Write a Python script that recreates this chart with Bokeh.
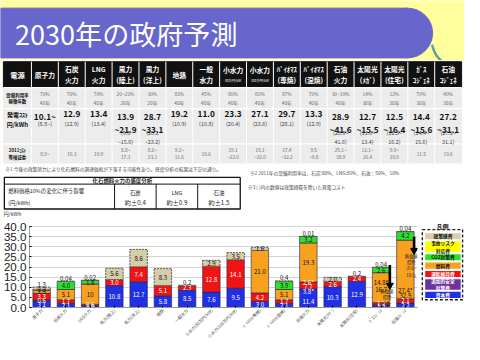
import math
import numpy as np
from bokeh.plotting import figure
from bokeh.layouts import column, row
from bokeh.models import Range1d, FactorRange, SingleIntervalTicker, NumeralTickFormatter, ColumnDataSource
from bokeh.transform import dodge
from bokeh.core.properties import value
from bokeh.embed import file_html
from bokeh.resources import INLINE

# ---------------- data ----------------
title = "2030年の政府予測"
cats = ["原子力", "石炭火力", "LNG火力", "風力(陸上)", "風力(洋上)", "地熱", "一般水力",
        "小水力(80万円/kW)", "小水力(100万円/kW)", "ﾊﾞｲｵﾏｽ(専焼)", "ﾊﾞｲｵﾏｽ(混焼)", "石油火力",
        "太陽光(ﾒｶﾞ)", "太陽光(住宅)", "ｶﾞｽｺｼﾞｪﾈ", "石油ｺｼﾞｪﾈ"]

head_main = ["原子力", "石炭\n火力", "LNG\n火力", "風力\n(陸上)", "風力\n(洋上)", "地熱", "一般\n水力",
             "小水力", "小水力", "ﾊﾞｲｵﾏｽ\n(専焼)", "ﾊﾞｲｵﾏｽ\n(混焼)", "石油\n火力", "太陽光\n(ﾒｶﾞ)",
             "太陽光\n(住宅)", "ｶﾞｽ\nｺｼﾞｪﾈ", "石油\nｺｼﾞｪﾈ"]
head_sub = ["", "", "", "", "", "", "", "80万円/kW", "100万円/kW", "", "", "", "", "", "", ""]
row_labels = ["設備利用率\n稼働年数", "発電ｺｽﾄ\n円/kWh", "2011ｺｽﾄ\n等検証委"]
util = ["70%\n40年", "70%\n40年", "70%\n40年", "20~23%\n20年", "30%\n20年", "83%\n40年", "45%\n40年",
        "60%\n40年", "60%\n40年", "87%\n40年", "70%\n40年", "30~10%\n40年", "14%\n30年", "12%\n30年",
        "70%\n30年", "40%\n30年"]
cost_main = ["10.1~", "12.9", "13.4", "13.9\n~21.9", "28.7\n~33.1", "19.2", "11.0", "23.3", "27.1",
             "29.7", "13.3", "28.9\n~41.6", "12.7\n~15.5", "12.5\n~16.4", "14.4\n~15.6", "27.2\n~31.1"]
cost_sub = ["(8.8~)", "(12.9)", "(13.4)", "(9.8\n~15.6)", "(20.2\n~23.2)", "(10.9)", "(10.8)", "(20.4)",
            "(23.6)", "(28.1)", "(12.9)", "(28.9~\n41.6)", "(11.0~\n13.4)", "(12.3~\n16.2)",
            "(14.4~\n15.6)", "(27.1~\n31.1)"]
cost2011 = ["8.9~", "10.3", "10.9", "8.8~\n17.3", "8.6~\n23.1", "9.2~\n11.6", "10.6", "19.1\n~22.0",
            "19.1\n~22.0", "17.4\n~32.2", "9.5\n~9.8", "25.1~\n38.9", "12.1~\n26.4", "9.9~\n20.0",
            "11.5", "19.6"]
note1 = "※1 今後の政策努力により化石燃料の調達価格が下落する可能性あり。感度分析の結果は下記の通り。"
note2 = "※2 2011年の設備利用率は、石炭:80%、LNG:80%、石油：50%、10%"
note3 = "※3 ( )内の数値は政策経費を除いた発電コスト"
sens_title = "化石燃料火力の感度分析"
sens_label = "燃料価格10%の変化に伴う影響\n(円/kWh)"
sens_fuel = ["石炭", "LNG", "石油"]
sens_val = ["約±0.4", "約±0.9", "約±1.5"]
y_unit = "円/kWh"

# stacked series (円/kWh)
capital  = [3.1, 2.1, 1.0, 10.8, 12.7, 5.8, 8.5, 7.6, 9.5, 3.0, 2.1, 9.2, 10.3, 12.9, 1.2, 2.2]
safety   = [0.6, 0, 0, 0, 0, 0, 0, 0, 0, 0, 0, 0, 0, 0, 0, 0]
om       = [3.3, 1.7, 0.6, 3.0, 7.4, 5.1, 2.3, 12.8, 14.1, 4.2, 1.7, 3.4, 2.6, 2.4, 1.2, 2.1]
fuel     = [1.5, 5.1, 10.0, 0, 0, 0, 0, 0, 0, 21.0, 5.1, 19.3, 0, 0, 14.8, 29.0]
co2      = [0, 4.0, 1.8, 0, 0, 0, 0, 0, 0, 0, 3.9, 3.2, 0, 0, 2.6, 4.2]
accident = [0.3, 0, 0, 0, 0, 0, 0, 0, 0, 0, 0, 0, 0, 0, 0, 0]
policy   = [1.3, 0.04, 0.02, 5.6, 8.6, 8.3, 0.2, 2.9, 3.5, 1.6, 0.4, 0.01, 2.0, 0.2, 0.04, 0.04]

capital_lbl  = ["3.1", "2.1", "1.0", "10.8", "12.7", "5.8", "8.5", "7.6", "9.5", "3.0", "2.1", "", "10.3", "12.9", "1.2", "2.2"]
safety_lbl   = ["0.6"] + [""] * 15
om_lbl       = ["3.3", "1.7", "0.6", "3.0", "7.4", "5.1", "2.3", "12.8", "14.1", "4.2", "1.7", "", "2.6", "2.4", "1.2", "2.1"]
fuel_lbl     = ["1.5", "5.1", "10", "", "", "", "", "", "", "21.0", "5.1", "19.3", "", "", "", ""]
co2_lbl      = ["", "4.0", "1.8", "", "", "", "", "", "", "", "3.9", "3.2", "", "", "2.6", "4.2"]
accident_lbl = ["0.3"] + [""] * 15
policy_lbl   = ["1.3", "0.04", "0.02", "5.6", "8.6", "8.3", "0.2", "2.9", "3.5", "1.6", "0.4", "0.01", "2.0", "0.2", "0.04", "0.04"]

# extra value notes inside bars
note_cat = ["石油火力", "石油火力", "石油火力", "石油火力", "ｶﾞｽｺｼﾞｪﾈ", "ｶﾞｽｺｼﾞｪﾈ", "石油ｺｼﾞｪﾈ", "石油ｺｼﾞｪﾈ"]
note_y   = [3.2, 8.0, 10.6, 12.3, 12.4, 8.8, 8.6, 5.9]
note_txt = ["11.4", "3.8*", "7.7", "2.6*", "14.8*", "16.7", "27.4*", "32.9"]
note_dark = [False, False, False, False, True, True, True, True]

arrow_cat = ["ｶﾞｽｺｼﾞｪﾈ", "石油ｺｼﾞｪﾈ"]
arrow_from = [21.0, 35.0]
arrow_to = [11.0, 28.2]
arrow_txt = ["熱価値\n控除\n(5.9~\n6.5)", "熱価値\n控除\n(9.0~\n10.5)"]

legend_names = ["政策経費", "事故リスク\n対応費", "CO2対策費", "燃料費", "運転維持費", "追加的安全\n対策費", "資本費"]

# ---------------- style ----------------
FONT = "Noto Sans CJK JP"
NUMF = "Liberation Sans"
BG_YEL = "#FFFF9E"
PURPLE_B = "#6666CC"
TEAL = "#5A9E98"
C_BLUE, C_PURP, C_RED, C_ORG = "#2030E6", "#7030A0", "#F01414", "#F7A11F"
C_GRN, C_YEL, C_TAN = "#2EE02E", "#FFFF00", "#D6CCA8"

W, H = 464, 344
SX, SY = W / 480, H / 360
def fs(n):
    return f"{n * SX:.2f}px"

SPLIT = 229
HA = round(SPLIT * SY)
HB = H - HA
WB = round(432 * SX)
WC = W - WB

def bare(p):
    p.xaxis.visible = False
    p.yaxis.visible = False
    p.grid.visible = False
    p.outline_line_color = None

# ================= top figure (title + table) =================
pA = figure(width=W, height=HA, x_range=Range1d(0, 480), y_range=Range1d(SPLIT, 0),
            output_backend="svg", toolbar_location=None, min_border=0)
bare(pA)
pA.background_fill_color = BG_YEL
pA.border_fill_color = BG_YEL

t = np.linspace(0.2, 0.9, 30)
pA.line(478 - 32 * np.cos(t), 40 + 32 * np.sin(t), line_color=TEAL, line_width=2.5)
pA.quad(left=0, right=480, top=63, bottom=SPLIT, color="white")
pA.quad(left=0, right=421, top=8, bottom=60, color=PURPLE_B)
pA.ellipse(x=421, y=34, width=52, height=52, color=PURPLE_B)
pA.segment(x0=0, y0=62.5, x1=423, y1=62.5, line_color="white", line_width=1.5)
pA.text(x=[15], y=[35], text=[title], text_font=value(FONT), text_font_size=fs(28),
        text_color="white", text_baseline="middle")

# table geometry
T_L, T_R, C0 = 3, 477, 32
CW = (T_R - C0) / len(cats)
R = [64, 91, 113, 150, 170]
centers = [C0 + CW * (i + 0.5) for i in range(len(cats))]
pA.quad(left=T_L, right=T_R, top=R[0], bottom=R[1], color="#111111")
pA.quad(left=T_L, right=T_R, top=R[1], bottom=R[4], color="#ECECEC")
edges = [C0 + CW * i for i in range(len(cats))]
pA.segment(x0=edges, y0=[R[0]] * len(edges), x1=edges, y1=[R[4]] * len(edges), line_color="white", line_width=1)
pA.segment(x0=[T_L] * 3, y0=R[1:4], x1=[T_R] * 3, y1=R[1:4], line_color="white", line_width=1.2)

txt = dict(text_font=value(FONT), text_align="center", text_baseline="middle")
pA.text(x=[(T_L + C0) / 2], y=[77.5], text=["電源"], text_color="white", text_font_style="bold",
        text_font_size=fs(7.5), **txt)
hy = [73 if s else 77.5 for s in head_sub]
pA.text(x=centers, y=hy, text=head_main, text_color="white", text_font_style="bold",
        text_font_size=fs(7), text_line_height=1.05, **txt)
pA.text(x=centers, y=[84] * len(cats), text=head_sub, text_color="white", text_font_size=fs(3.4), **txt)

pA.text(x=[(T_L + C0) / 2] * 3, y=[102, 124, 160], text=row_labels, text_color="#111",
        text_font_style="bold", text_font_size=[fs(4.6), fs(6.2), fs(4.6)], text_line_height=1.1, **txt)
pA.text(x=centers, y=[102] * len(cats), text=util, text_color="#666", text_font_size=fs(5),
        text_line_height=1.2, **txt)
pA.text(x=centers, y=[115] * len(cats), text=cost_main, text_color="#111", text_font_style="bold",
        text_font_size=fs(8.5), text_line_height=1.08, text_font=value(FONT), text_align="center",
        text_baseline="top")
sub_y = [115.5 + 9.3 * (m.count("\n") + 1) for m in cost_main]
pA.text(x=centers, y=sub_y, text=cost_sub, text_color="#444", text_font_size=fs(5.6),
        text_line_height=1.15, text_font=value(FONT), text_align="center", text_baseline="top")
pA.text(x=centers, y=[160] * len(cats), text=cost2011, text_color="#666", text_font_size=fs(4.9),
        text_line_height=1.2, **txt)

notes = dict(text_font=value(FONT), text_color="#444", text_baseline="middle", text_font_size=fs(4.9))
pA.text(x=[5], y=[176.5], text=[note1], **notes)
pA.text(x=[258], y=[180], text=[note2], **notes)
pA.text(x=[256], y=[194.5], text=[note3], **notes)

# sensitivity box
B_L, B_R, B_T, B_H, B_B = 4, 248, 185, 192, 218
B_COLS = [118, 161, 204]
pA.quad(left=B_L, right=B_R, top=B_T, bottom=B_B, fill_color="white", line_color="#111", line_width=1.3)
pA.segment(x0=B_L, y0=B_H, x1=B_R, y1=B_H, line_color="#111", line_width=1)
pA.segment(x0=B_COLS, y0=[B_H] * 3, x1=B_COLS, y1=[B_B] * 3, line_color="#111", line_width=1)
pA.text(x=[(B_L + B_R) / 2], y=[188.7], text=[sens_title], text_color="#222", text_font_size=fs(5.6),
        text_font_style="bold", **txt)
pA.text(x=[8], y=[205.5], text=[sens_label], text_color="#222", text_font_size=fs(5.6),
        text_line_height=1.4, text_font=value(FONT), text_baseline="middle")
scx = [(B_COLS[0] + B_COLS[1]) / 2, (B_COLS[1] + B_COLS[2]) / 2, (B_COLS[2] + B_R) / 2]
pA.text(x=scx, y=[201.5] * 3, text=sens_fuel, text_color="#222", text_font_size=fs(5.6), **txt)
pA.text(x=scx, y=[211.5] * 3, text=sens_val, text_color="#222", text_font_size=fs(6.4), **txt)
pA.text(x=[3], y=[223.5], text=[y_unit], text_color="#333", text_font_size=fs(5.4),
        text_font=value(FONT), text_baseline="middle")

# ================= bar chart =================
Y_END = 42.0
PX_PER_UNIT = (324 - 237) / 40.0
FRAME_L, FRAME_R, FRAME_B = 29.5, 430.5, 324
FRAME_T = FRAME_B - Y_END * PX_PER_UNIT
mbl = round(FRAME_L * SX)
mbr = WB - mbl - round((FRAME_R - FRAME_L) * SX)
mbt = round((FRAME_T - SPLIT) * SY)
mbb = HB - mbt - round((FRAME_B - FRAME_T) * SY)

pB = figure(width=WB, height=HB, x_range=FactorRange(factors=cats, range_padding=0),
            y_range=Range1d(0, Y_END), output_backend="svg", toolbar_location=None,
            min_border_left=mbl, min_border_right=mbr, min_border_top=mbt, min_border_bottom=mbb)
pB.outline_line_color = None
pB.background_fill_color = "white"
pB.border_fill_color = "white"
pB.xgrid.visible = False
pB.ygrid.grid_line_color = "#D4D4D4"
pB.yaxis.ticker = SingleIntervalTicker(interval=5)
pB.yaxis.formatter = NumeralTickFormatter(format="0.0")
pB.yaxis.major_label_text_font = NUMF
pB.yaxis.major_label_text_font_size = fs(12)
pB.yaxis.major_label_text_color = "#222"
pB.yaxis.major_tick_out = 0
pB.yaxis.minor_tick_out = 0
pB.yaxis.major_label_standoff = 3
pB.yaxis.axis_line_color = "#999"
pB.yaxis.bounds = (0, 40)
pB.xaxis.major_label_orientation = math.pi / 4
pB.xaxis.major_label_text_font = FONT
pB.xaxis.major_label_text_font_size = fs(4.4)
pB.xaxis.major_label_text_color = "#444"
pB.xaxis.major_tick_out = 0
pB.xaxis.major_label_standoff = 2
pB.xaxis.axis_line_color = "#999"

series = [capital, safety, om, fuel, co2, accident, policy]
labels = [capital_lbl, safety_lbl, om_lbl, fuel_lbl, co2_lbl, accident_lbl, policy_lbl]
colors = [C_BLUE, C_PURP, C_RED, C_ORG, C_GRN, C_YEL, C_TAN]
dark_text = [False, False, False, True, True, True, True]
arr = np.array(series, dtype=float)
tops = np.cumsum(arr, axis=0)
bottoms = tops - arr
totals = tops[-1]
BW = 0.72

for k, vals in enumerate(series):
    idx = [i for i, v in enumerate(vals) if v > 0]
    src = dict(x=[cats[i] for i in idx], b=[bottoms[k][i] for i in idx], t=[tops[k][i] for i in idx])
    if k == len(series) - 1:
        pB.vbar(x="x", bottom="b", top="t", width=BW, source=ColumnDataSource(src),
                fill_color=colors[k], line_color="#555", line_dash="2 1", line_width=1)
    else:
        pB.vbar(x="x", bottom="b", top="t", width=BW, source=ColumnDataSource(src),
                fill_color=colors[k], line_color="#22224A", line_width=0.6)

lab_style = dict(text_font=value(FONT), text_align="center", text_font_size=fs(6.3))
for k, lbls in enumerate(labels):
    xs, ys, ts, xa, ya, ta = [], [], [], [], [], []
    for i, s in enumerate(lbls):
        if not s:
            continue
        if k == len(series) - 1 and series[k][i] < 1.5:
            xa.append(cats[i]); ya.append(totals[i] + 0.2); ta.append(s)
        else:
            xs.append(cats[i]); ys.append((bottoms[k][i] + tops[k][i]) / 2); ts.append(s)
    pB.text(x=xs, y=ys, text=ts, text_baseline="middle",
            text_color="#111" if dark_text[k] else "white", **lab_style)
    if xa:
        pB.text(x=xa, y=ya, text=ta, text_baseline="bottom", text_color="#111", **lab_style)

pB.text(x=note_cat, y=note_y, text=note_txt, text_baseline="middle",
        text_color=["#111" if d else "white" for d in note_dark], **lab_style)

asrc = ColumnDataSource(dict(c=arrow_cat, y0=arrow_from, y1=arrow_to, t=arrow_txt,
                             ty=[v - 1.2 for v in arrow_to]))
ax = dodge("c", 0.36, range=pB.x_range)
pB.segment(x0=ax, y0="y0", x1=ax, y1="y1", source=asrc, line_color="black", line_width=2.6)
pB.scatter(x=ax, y="y1", source=asrc, marker="inverted_triangle", size=7, color="black")
pB.text(x=dodge("c", 0.24, range=pB.x_range), y="ty", text="t", source=asrc, text_color="#222",
        text_font=value(FONT), text_font_size=fs(4.4), text_align="center", text_baseline="top",
        text_line_height=1.05)

# ================= legend figure =================
pC = figure(width=WC, height=HB, x_range=Range1d(432, 480), y_range=Range1d(360, SPLIT),
            output_backend="svg", toolbar_location=None, min_border=0)
bare(pC)
pC.background_fill_color = "white"
pC.border_fill_color = "white"
pC.text(x=[457], y=[235], text=["凡例"], text_font=value(FONT), text_font_style="bold",
        text_font_size=fs(6.3), text_align="center", text_baseline="middle", text_color="#111")
pC.quad(left=436, right=478, top=240, bottom=348, fill_color="white", line_color="#222",
        line_dash="3 2", line_width=1.4)
leg_colors = [C_TAN, C_YEL, C_GRN, C_ORG, C_RED, C_PURP, C_BLUE]
leg_dark = [True, True, True, True, False, False, False]
y = 245.5
lt, lb, lc = [], [], []
for n in legend_names:
    h = 16 if "\n" in n else 9.5
    lt.append(y); lb.append(y + h); lc.append(y + h / 2)
    y += h + 3.4
pC.quad(left=439, right=476, top=lt, bottom=lb, fill_color=leg_colors, line_color=None)
pC.text(x=[457.5] * len(legend_names), y=lc, text=legend_names, text_font=value(FONT),
        text_font_style="bold", text_font_size=fs(4.9), text_align="center", text_baseline="middle",
        text_line_height=1.3, text_color=["#111" if d else "white" for d in leg_dark])

layout = column(pA, row(pB, pC, spacing=0), spacing=0)
open("out.html", "w").write(file_html(layout, INLINE))
